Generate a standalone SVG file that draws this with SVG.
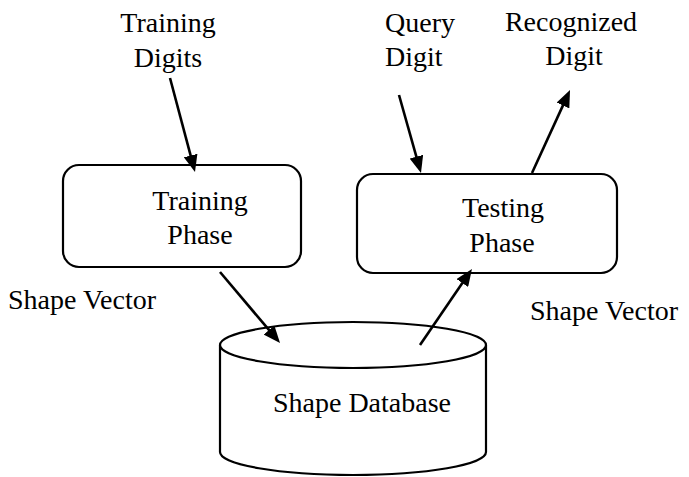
<svg xmlns="http://www.w3.org/2000/svg" width="689" height="477" viewBox="0 0 689 477">
  <style>
    .mid { text-anchor: middle; }
    .shape { fill: #fff; stroke: #000; stroke-width: 2.2; }
    .link { stroke: #000; stroke-width: 2.6; fill: none; marker-end: url(#head); }
  </style>
  <defs>
    <marker id="head" markerUnits="userSpaceOnUse" viewBox="0 0 17 14" markerWidth="17" markerHeight="14" refX="10" refY="7" orient="auto">
      <path d="M0,0 L17,7 L0,14 Z" fill="#000"/>
    </marker>
  </defs>

  <rect width="689" height="477" fill="#fff"/>

  <g font-family="Liberation Serif, Times New Roman, serif" font-size="28" fill="#000">
    <!-- free-standing labels -->
    <g id="training-digits">
      <text class="mid" x="168" y="32">Training</text>
      <text class="mid" x="168" y="67">Digits</text>
    </g>
    <g id="query-digit">
      <text x="385" y="32">Query</text>
      <text x="385" y="66">Digit</text>
    </g>
    <g id="recognized-digit">
      <text class="mid" x="571" y="31">Recognized</text>
      <text class="mid" x="574" y="65">Digit</text>
    </g>
    <g id="shape-vector-left">
      <text x="8" y="309">Shape Vector</text>
    </g>
    <g id="shape-vector-right">
      <text x="530" y="320">Shape Vector</text>
    </g>

    <!-- processing stages -->
    <g id="training-phase">
      <rect class="shape" x="63" y="165" width="238" height="102" rx="16" ry="16"/>
      <text class="mid" x="200" y="210">Training</text>
      <text class="mid" x="200" y="244">Phase</text>
    </g>
    <g id="testing-phase">
      <rect class="shape" x="357" y="174" width="260" height="99" rx="16" ry="16"/>
      <text class="mid" x="503" y="217">Testing</text>
      <text class="mid" x="502" y="252">Phase</text>
    </g>

    <!-- storage cylinder -->
    <g id="shape-database">
      <path class="shape" d="M220,345 L220,452 A133,23 0 0 0 486,452 L486,345"/>
      <ellipse class="shape" cx="353" cy="345" rx="133" ry="23"/>
      <text class="mid" x="362" y="412">Shape Database</text>
    </g>
  </g>

  <!-- connectors -->
  <g id="connectors">
    <line class="link" x1="170" y1="78" x2="193.2" y2="165.2"/>
    <line class="link" x1="399" y1="95" x2="419.1" y2="166.3"/>
    <line class="link" x1="532" y1="173" x2="567.1" y2="96.4"/>
    <line class="link" x1="220" y1="272" x2="275.5" y2="337.7"/>
    <line class="link" x1="420" y1="345" x2="468" y2="274.8"/>
  </g>
</svg>
